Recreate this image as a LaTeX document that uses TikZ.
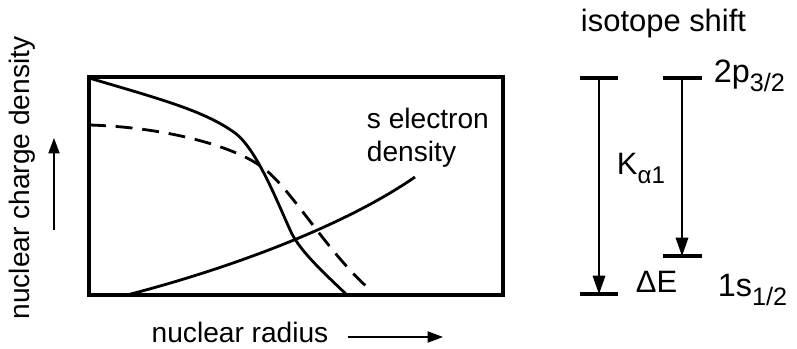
\documentclass[tikz,border=0pt]{standalone}
\usepackage{fontspec}
\setmainfont{Liberation Sans}
\usetikzlibrary{arrows.meta}

\newcommand{\lowsub}[1]{\raisebox{-0.27em}{\scalebox{0.78}{#1}}}

\tikzset{
    frame/.style={line width=2.4pt},
    curve/.style={line width=2pt},
    level/.style={line width=2.4pt},
    trans/.style={line width=0.8pt, -{Triangle[length=13pt, width=9pt]}},
    axisarrow/.style={line width=0.8pt, -{Triangle[length=11pt, width=8pt]}}
}

\begin{document}
\begin{tikzpicture}[x=0.025cm, y=0.025cm, font=\fontsize{20}{24}\selectfont]
    \useasboundingbox (0,0) rectangle (797,349);

    % frame of the plot
    \coordinate (BL) at (89,54);
    \coordinate (TR) at (503,272);
    \draw[frame] (BL) rectangle (TR);

    % nuclear charge density, two isotopes
    \draw[curve] (89,271) .. controls (160,250) and (205,238) .. (235,216)
        .. controls (258,199) and (280,140) .. (292,115)
        .. controls (302,96) and (325,75) .. (347,54);
    \draw[curve, dash pattern=on 12pt off 7pt] (89,224) .. controls (160,222) and (230,205) .. (262,182)
        .. controls (290,162) and (325,100) .. (367,62);
    % s electron density
    \draw[curve] (127,54) .. controls (220,78) and (340,120) .. (415,172);

    \node[anchor=base west, align=left] (slab) at (362,187) {s electron\\density};

    % axes
    \node[rotate=90] (ylab) at (22,171) {nuclear charge density};
    \coordinate (ya) at (54,119);
    \coordinate (yb) at (54,211);
    \draw[axisarrow] (ya) -- (yb);

    \node[anchor=base] (xlab) at (240,6) {nuclear radius};
    \coordinate (xa) at (348,12);
    \coordinate (xb) at (443,12);
    \draw[axisarrow] (xa) -- (xb);

    % level scheme
    \node[anchor=base west, font=\fontsize{22}{26}\selectfont] (iso) at (576,317) {isotope shift};
    \coordinate (A1) at (580,271); \coordinate (A2) at (618,271);
    \coordinate (B1) at (580,55);  \coordinate (B2) at (618,55);
    \coordinate (C1) at (663,271); \coordinate (C2) at (702,271);
    \coordinate (D1) at (663,93);  \coordinate (D2) at (702,93);
    \foreach \a/\b in {A1/A2,B1/B2,C1/C2,D1/D2} {\draw[level] (\a) -- (\b);}

    \coordinate (Ka) at (599,271); \coordinate (Kb) at (599,55);
    \coordinate (La) at (682,271); \coordinate (Lb) at (682,93);
    \draw[trans] (Ka) -- (Kb);
    \draw[trans] (La) -- (Lb);

    \node[anchor=base west, font=\fontsize{23}{27}\selectfont] (p32) at (709,266) {2p\lowsub{3/2}};
    \node[anchor=base west, font=\fontsize{22}{26}\selectfont] (ka1) at (612,174) {K\lowsub{α1}};
    \node[anchor=base west, font=\fontsize{22}{26}\selectfont] (dE) at (631,56) {ΔE};
    \node[anchor=base west, font=\fontsize{23}{27}\selectfont] (s12) at (713,52) {1s\lowsub{1/2}};
\end{tikzpicture}
\end{document}
